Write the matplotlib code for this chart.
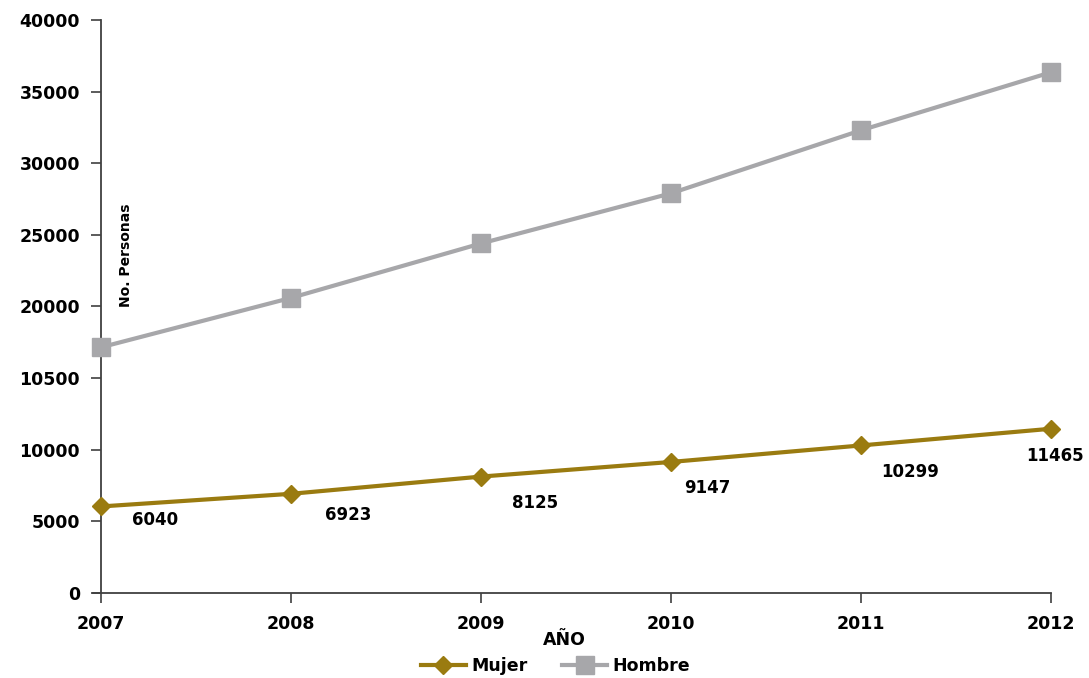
import matplotlib.pyplot as plt
from matplotlib.ticker import FixedLocator, FixedFormatter

plt.rcParams['font.family'] = ['DejaVu Sans']
plt.rcParams['font.weight'] = 'bold'

# datos por año
anios = [2007, 2008, 2009, 2010, 2011, 2012]
mujer = [6040, 6923, 8125, 9147, 10299, 11465]
hombre = [17150, 20600, 24400, 27900, 32300, 36350]

y_ticks = [0, 5000, 10000, 15000, 20000, 25000, 30000, 35000, 40000]
y_labels = ['0', '5000', '10000', '10500', '20000', '25000', '30000', '35000', '40000']

# desplazamiento de cada etiqueta (pixeles)
offs = [(54, -14), (57, -21), (54, -26), (36, -26), (49, -27), (4, -27)]

color_mujer = '#9a7b10'
color_hombre = '#a7a7aa'

fig = plt.figure(figsize=(10.89, 6.78), dpi=100)
ax = fig.add_axes([0.0927, 0.1254, 0.8724, 0.8451])

ax.plot(anios, mujer, color=color_mujer, lw=3.0, marker='D', ms=9,
        label='Mujer', zorder=3, clip_on=False)
ax.plot(anios, hombre, color=color_hombre, lw=3.0, marker='s', ms=13,
        label='Hombre', zorder=3, clip_on=False)

for x, v, (dx, dy) in zip(anios, mujer, offs):
    ax.annotate(str(v), (x, v), xytext=(dx * 0.72, dy * 0.72),
                textcoords='offset points', ha='center', va='center',
                fontsize=12, fontweight='bold', color='black')

ax.set_xlim(2007, 2012)
ax.set_ylim(0, 40000)
ax.yaxis.set_major_locator(FixedLocator(y_ticks))
ax.yaxis.set_major_formatter(FixedFormatter(y_labels))
ax.set_xticks(anios)

for s in ['top', 'right']:
    ax.spines[s].set_visible(False)
for s in ['left', 'bottom']:
    ax.spines[s].set_color('#404040')
    ax.spines[s].set_linewidth(1.3)
ax.spines['bottom'].set_bounds(2006.96, 2012)
ax.tick_params(axis='both', direction='out', length=7, width=1.2,
               color='#404040', labelsize=12.5, pad=8)
ax.tick_params(axis='x', pad=9)
for lab in ax.get_xticklabels() + ax.get_yticklabels():
    lab.set_fontweight('bold')

ax.set_xlabel('AÑO', fontsize=12.5, fontweight='bold')
ax.xaxis.set_label_coords(0.488, -0.066)
ax.text(2007.13, 23600, 'No. Personas', rotation=90, ha='center', va='center',
        fontsize=10, fontweight='bold')

fig.legend(*ax.get_legend_handles_labels(), loc='center',
           bbox_to_anchor=(0.51, 0.018), ncol=2, frameon=False,
           prop={'weight': 'bold', 'size': 12.5},
           handlelength=2.6, columnspacing=2.0, handletextpad=0.3,
           borderpad=0)

fig.savefig('out.png', dpi=100)
